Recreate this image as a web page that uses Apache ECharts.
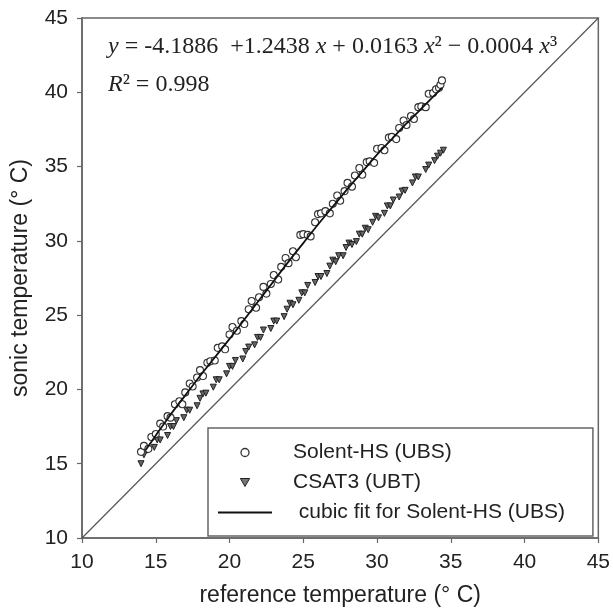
<!DOCTYPE html>
<html>
<head>
<meta charset="utf-8">
<script src="https://cdn.jsdelivr.net/npm/echarts@6/dist/echarts.min.js"></script>
<style>
  html, body { margin: 0; padding: 0; background: #fff; }
  #chart { width: 613px; height: 612px; }
</style>
</head>
<body>
<div id="chart"></div>
<script>
// Solent-HS (UBS) points
const solentX = [14.0, 14.2, 14.5, 14.7, 15.0, 15.3, 15.5, 15.8, 16.0, 16.3, 16.6, 16.8, 17.0, 17.3, 17.5, 17.8,
  18.0, 18.2, 18.5, 18.7, 19.0, 19.2, 19.5, 19.7, 20.0, 20.2, 20.5, 20.8, 21.0, 21.3, 21.5, 21.8,
  22.0, 22.3, 22.5, 22.8, 23.0, 23.3, 23.5, 23.8, 24.0, 24.3, 24.5, 24.8, 25.0, 25.3, 25.5, 25.8,
  26.0, 26.2, 26.5, 26.8, 27.0, 27.3, 27.5, 27.8, 28.0, 28.3, 28.5, 28.8, 29.0, 29.3, 29.5, 29.8,
  30.0, 30.3, 30.5, 30.8, 31.0, 31.3, 31.5, 31.8, 32.0, 32.3, 32.5, 32.8, 33.0, 33.3, 33.5, 33.8,
  34.0, 34.2, 34.3, 34.4];
const solentY = [15.8, 16.2, 16.0, 16.8, 17.0, 17.7, 17.5, 18.2, 18.1, 19.0, 19.2, 19.0, 19.8, 20.4, 20.2, 20.8,
  21.3, 20.9, 21.8, 21.9, 21.95, 22.8, 22.9, 22.7, 23.7, 24.2, 23.95, 24.6, 24.4, 25.4, 25.95, 25.5,
  26.2, 26.9, 26.45, 27.1, 27.7, 27.4, 28.25, 28.85, 28.5, 29.3, 28.9, 30.4, 30.45, 30.4, 30.3, 31.25,
  31.8, 31.85, 32.0, 31.85, 32.5, 33.05, 32.7, 33.35, 33.9, 33.65, 34.4, 34.9, 34.45, 35.3, 35.35, 35.25,
  36.2, 36.25, 36.1, 36.95, 37.0, 36.85, 37.6, 38.1, 37.8, 38.4, 38.2, 39.0, 39.05, 39.0, 39.9, 39.95,
  40.2, 40.3, 40.5, 40.8];

// CSAT3 (UBT) points
const csatX = [14.0, 14.2, 14.4, 14.9, 15.1, 15.3, 15.8, 16.0, 16.2, 16.4, 16.9, 17.1, 17.3, 17.8, 18.0, 18.2,
  18.4, 18.9, 19.1, 19.3, 19.8, 20.0, 20.2, 20.4, 20.9, 21.1, 21.3, 21.7, 21.9, 22.1, 22.3, 22.8,
  23.0, 23.2, 23.7, 23.9, 24.1, 24.3, 24.7, 24.9, 25.1, 25.3, 25.8, 26.0, 26.2, 26.6, 26.8, 27.0,
  27.2, 27.4, 27.7, 27.9, 28.1, 28.3, 28.6, 28.8, 29.0, 29.2, 29.4, 29.7, 29.9, 30.1, 30.5, 30.7,
  30.9, 31.1, 31.5, 31.7, 31.9, 32.4, 32.6, 32.8, 33.3, 33.5, 33.9, 34.1, 34.3, 34.5];
const csatY = [15.0, 15.6, 15.9, 16.1, 16.6, 16.6, 16.9, 17.5, 17.5, 17.9, 18.1, 18.6, 18.6, 18.9, 19.4, 19.7,
  19.75, 20.15, 20.65, 20.65, 21.05, 21.55, 21.55, 21.95, 22.05, 22.55, 22.85, 23.0, 23.5, 23.5, 24.0, 24.1,
  24.6, 24.6, 24.9, 25.4, 25.8, 25.7, 26.0, 26.5, 26.5, 27.0, 27.2, 27.6, 27.6, 27.8, 28.3, 28.7,
  28.6, 29.0, 29.0, 29.55, 29.85, 29.75, 29.95, 30.45, 30.45, 30.85, 30.75, 31.25, 31.65, 31.55, 31.85, 32.35,
  32.35, 32.75, 32.95, 33.35, 33.4, 33.9, 34.3, 34.3, 34.8, 35.1, 35.4, 35.7, 35.9, 36.1];

// cubic fit line as drawn
const fitX = [14.3, 15, 16, 17, 18, 19, 20, 21, 22, 23, 24, 25, 26, 27, 28, 29, 30, 31, 32, 33, 34.4];
const fitY = [15.9, 16.9, 18.3, 19.6, 20.9, 22.15, 23.4, 24.7, 26.0, 27.3, 28.6, 29.85, 31.1, 32.3, 33.5,
  34.65, 35.8, 36.85, 37.9, 38.9, 40.3];

// 1:1 line
const oneToOneX = [10, 45];
const oneToOneY = [10, 45];

const axisTicks = { min: 10, max: 45, interval: 5 };

const pairs = (xs, ys) => xs.map((x, i) => [x, ys[i]]);

const chart = echarts.init(document.getElementById('chart'), null, { renderer: 'canvas' });

const sans = 'Liberation Sans, Arial, sans-serif';
const serif = 'Liberation Serif, Times New Roman, serif';

const axisCommon = {
  type: 'value',
  min: axisTicks.min,
  max: axisTicks.max,
  interval: axisTicks.interval,
  nameLocation: 'middle',
  nameTextStyle: { fontFamily: sans, fontSize: 23, color: '#222' },
  axisLine: { show: true, onZero: false, lineStyle: { color: '#666', width: 1.5 } },
  axisTick: { show: true, inside: false, length: 5, lineStyle: { color: '#666', width: 1.2 } },
  axisLabel: { fontFamily: sans, fontSize: 21, color: '#222', margin: 14 },
  splitLine: { show: false },
};

const eqRich = {
  i: { fontFamily: serif, fontSize: 24, fontStyle: 'italic', fill: '#222' },
};

const option = {
  animation: false,
  backgroundColor: '#fff',
  grid: {
    left: 82, right: 11, top: 18, bottom: 71,
    show: true, borderColor: '#666', borderWidth: 1.5,
  },
  xAxis: { ...axisCommon, name: 'reference temperature (° C)', nameGap: 46 },
  yAxis: { ...axisCommon, name: 'sonic temperature (° C)', nameGap: 50 },
  legend: {
    orient: 'vertical',
    left: 208,
    top: 428,
    padding: [14, 28, 13, 10],
    itemGap: 9,
    itemWidth: 54,
    itemHeight: 8,
    symbolKeepAspect: true,
    backgroundColor: '#fff',
    borderColor: '#666',
    borderWidth: 1.5,
    borderRadius: 0,
    selectedMode: false,
    textStyle: { fontFamily: sans, fontSize: 21, color: '#222', padding: [0, 0, 0, 16] },
    formatter: (name) => (name.indexOf('cubic') === 0 ? ' ' + name : name),
    data: [
      {
        name: 'Solent-HS (UBS)',
        icon: 'circle',
        itemStyle: { color: '#fff', borderColor: '#333', borderWidth: 1.3 },
      },
      {
        name: 'CSAT3 (UBT)',
        icon: 'path://M0,0L10,0L5,8.7Z',
        itemStyle: { color: '#777', borderColor: '#222', borderWidth: 1 },
      },
      {
        name: 'cubic fit for Solent-HS (UBS)',
        icon: 'path://M0,0L54,0L54,2L0,2Z',
        itemStyle: { color: '#111', borderWidth: 0 },
      },
    ],
  },
  graphic: [
    {
      type: 'text',
      left: 108,
      top: 35,
      style: {
        text: '{i|y} = -4.1886  +1.2438 {i|x} + 0.0163 {i|x}² − 0.0004 {i|x}³',
        fontFamily: serif,
        fontSize: 24,
        fill: '#222',
        rich: eqRich,
      },
    },
    {
      type: 'text',
      left: 108,
      top: 73,
      style: {
        text: '{i|R}² = 0.998',
        fontFamily: serif,
        fontSize: 24,
        fill: '#222',
        rich: eqRich,
      },
    },
  ],
  series: [
    {
      name: '1:1',
      type: 'line',
      data: pairs(oneToOneX, oneToOneY),
      symbol: 'none',
      silent: true,
      lineStyle: { color: '#555', width: 1.2 },
      z: 1,
    },
    {
      name: 'CSAT3 (UBT)',
      type: 'scatter',
      data: pairs(csatX, csatY),
      symbol: 'triangle',
      symbolRotate: 180,
      symbolSize: 6,
      itemStyle: { color: '#666', borderColor: '#222', borderWidth: 1, opacity: 1 },
      z: 2,
    },
    {
      name: 'Solent-HS (UBS)',
      type: 'scatter',
      data: pairs(solentX, solentY),
      symbol: 'circle',
      symbolSize: 7,
      itemStyle: { color: '#fff', borderColor: '#333', borderWidth: 1.1, opacity: 1 },
      z: 3,
    },
    {
      name: 'cubic fit for Solent-HS (UBS)',
      type: 'line',
      data: pairs(fitX, fitY),
      smooth: 0.3,
      symbol: 'none',
      itemStyle: { color: '#111' },
      lineStyle: { color: '#111', width: 1.8 },
      z: 4,
    },
  ],
};

chart.setOption(option);
</script>
</body>
</html>
